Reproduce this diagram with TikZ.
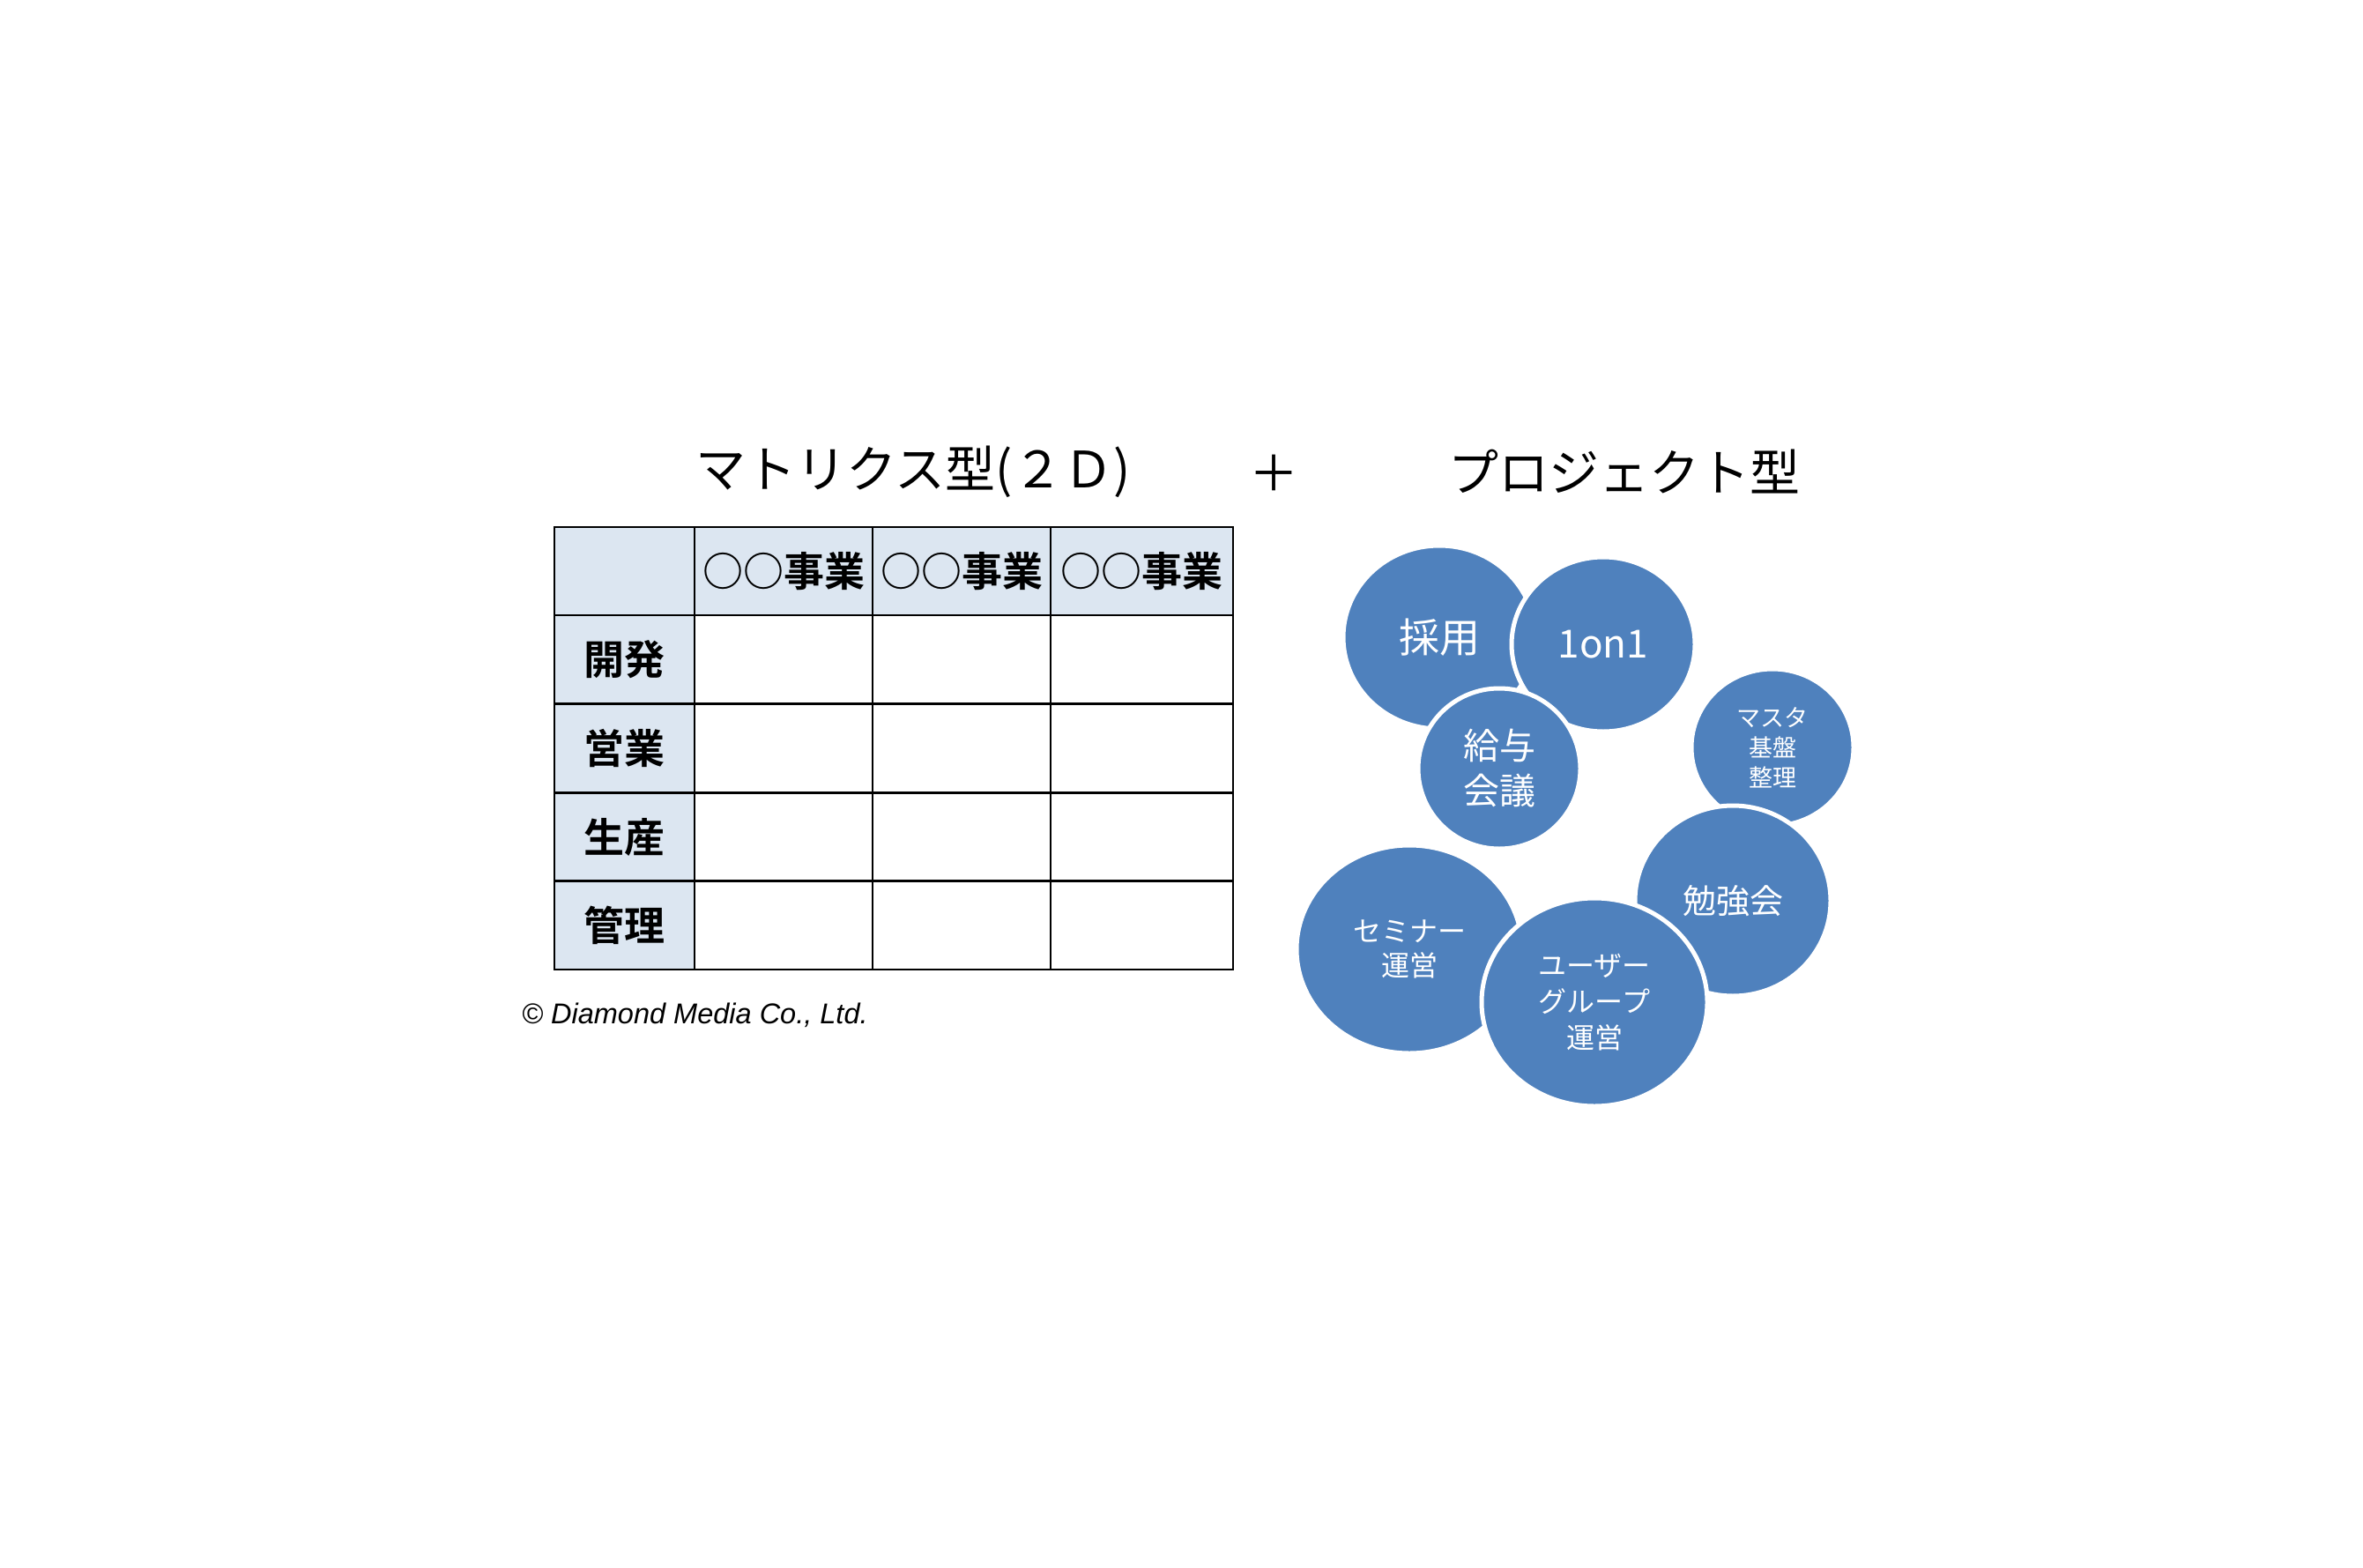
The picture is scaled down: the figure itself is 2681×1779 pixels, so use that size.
\documentclass[tikz,border=0pt]{standalone}
\usepackage{fontspec}
\setmainfont{Liberation Sans}
\newfontfamily\jp{Noto Sans CJK JP}
\newfontfamily\jpm{Noto Sans CJK JP Bold}
\usetikzlibrary{shapes.geometric}
\definecolor{bubble}{HTML}{4F81BD}
\definecolor{hdr}{HTML}{DCE6F1}
\begin{document}
\begin{tikzpicture}[x=1pt,y=-1pt,
  cell/.style={draw=black,line width=2.5pt,inner sep=0pt,minimum height=100.5pt},
  ttl/.style={font=\jp\fontsize{57}{60}\selectfont,inner sep=0pt},
  hlab/.style={font=\jpm\fontsize{46}{50}\selectfont,inner sep=0pt},
  bub/.style={ellipse,fill=bubble,draw=white,line width=5pt,text=white,align=center,inner sep=0pt},
  copy/.style={font=\itshape\fontsize{32.5}{34}\selectfont,inner sep=0pt,anchor=west}]
\useasboundingbox (0,0) rectangle (2681,1779);
% titles
\node[ttl] (t1) at (1036,535) {マトリクス型(２Ｄ)};
\node[ttl,font=\jp\fontsize{56}{60}\selectfont] (plus) at (1445,537) {＋};
\node[ttl] (t2) at (1843,535) {プロジェクト型};
% table
\foreach \cx/\w [count=\i] in {708.5/159,889/202,1091/202,1295.5/207}
  \foreach \cy [count=\j] in {648,748,848.5,949.5,1049.5}{
    \ifnum\i=1 \def\fc{hdr}\else\ifnum\j=1 \def\fc{hdr}\else\def\fc{white}\fi\fi
    \node[cell,fill=\fc,minimum width=\w pt] (c\i\j) at (\cx,\cy) {};
  }
\node[hlab] (h2) at (c21) {○○事業};
\node[hlab] (h3) at (c31) {○○事業};
\node[hlab] (h4) at (c41) {○○事業};
\node[hlab] (r2) at (c12) {開発};
\node[hlab] (r3) at (c13) {営業};
\node[hlab] (r4) at (c14) {生産};
\node[hlab] (r5) at (c15) {管理};
\node[copy] (cr) at (592,1152) {© Diamond Media Co., Ltd.};
% bubbles
\node[bub,minimum width=218pt,minimum height=208pt,font=\jp\fontsize{46}{50}\selectfont] (saiyo) at (1633,723) {採用};
\node[bub,minimum width=208pt,minimum height=198pt,font=\jp\fontsize{44}{50}\selectfont] (oneon) at (1819,731) {1on1};
\node[bub,minimum width=184pt,minimum height=182pt,font=\jp\fontsize{41}{51}\selectfont] (kyuyo) at (1701,872) {給与\\会議};
\node[bub,minimum width=184pt,minimum height=178pt,font=\jp\fontsize{27}{34}\selectfont] (masta) at (2011,848) {マスタ\\基盤\\整理};
\node[bub,minimum width=222pt,minimum height=216pt,font=\jp\fontsize{38}{44}\selectfont] (benkyo) at (1966,1022) {勉強会};
\node[bub,minimum width=256pt,minimum height=236pt,font=\jp\fontsize{32}{39}\selectfont] (semi) at (1599,1077) {セミナー\\運営};
\node[bub,minimum width=256pt,minimum height=236pt,font=\jp\fontsize{32}{41}\selectfont] (user) at (1809,1137) {ユーザー\\グループ\\運営};
\end{tikzpicture}
\end{document}
